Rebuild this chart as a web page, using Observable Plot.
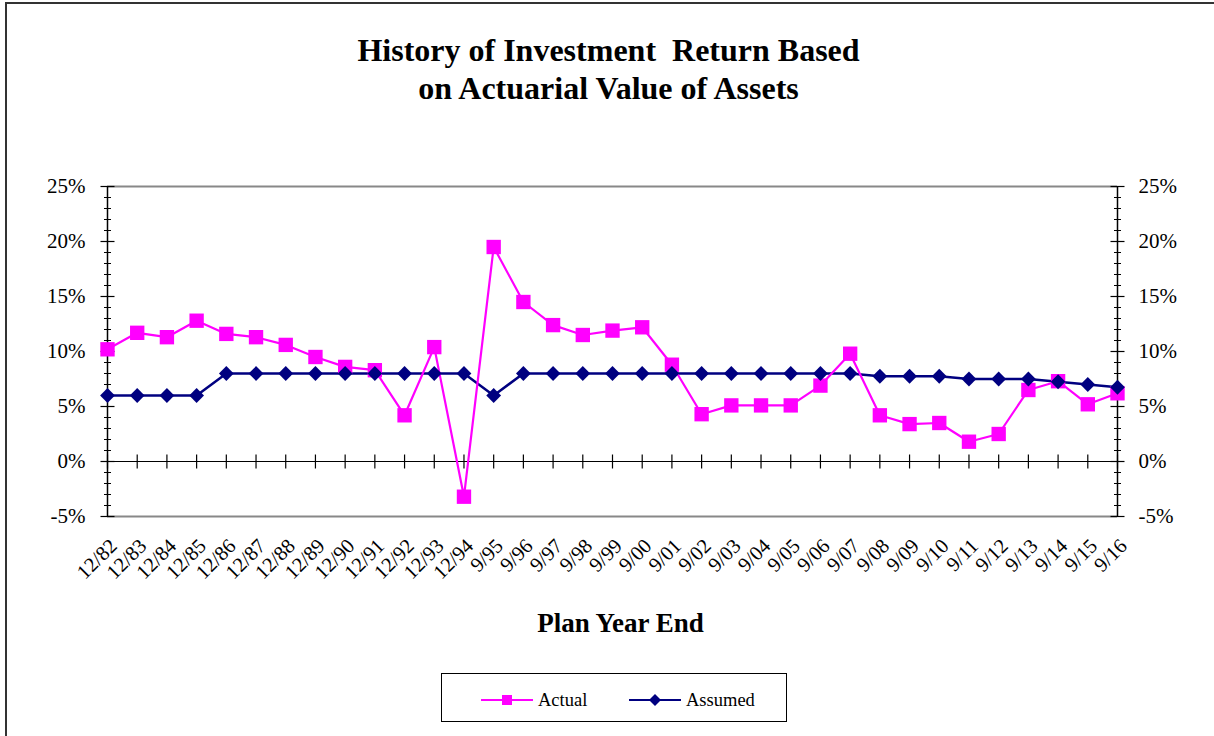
<!DOCTYPE html>
<html>
<head>
<meta charset="utf-8">
<script src="https://cdn.jsdelivr.net/npm/d3@7"></script>
<script src="https://cdn.jsdelivr.net/npm/@observablehq/plot@0.6"></script>
<style>
  html, body { margin: 0; padding: 0; background: #fff; }
  #wrap { position: relative; width: 1214px; height: 736px; overflow: hidden; font-family: "Liberation Serif", "Times New Roman", serif; }
  #border { position: absolute; left: 5px; top: 2px; width: 1300px; height: 800px; border-left: 2px solid #333; border-top: 2px solid #333; box-sizing: border-box; }
  #chart { position: absolute; left: 0; top: 0; }
  #legend { position: absolute; left: 441px; top: 673px; width: 346px; height: 49px; border: 1px solid #000; box-sizing: border-box; background: #fff; }
  #legend svg { position: absolute; left: 0; top: 0; }
</style>
</head>
<body>
<div id="wrap">
  <div id="border"></div>
  <div id="chart"></div>
  <div id="legend"></div>
</div>
<script>
const categories = ["12/82","12/83","12/84","12/85","12/86","12/87","12/88","12/89","12/90","12/91","12/92","12/93","12/94",
  "9/95","9/96","9/97","9/98","9/99","9/00","9/01","9/02","9/03","9/04","9/05","9/06","9/07","9/08","9/09","9/10","9/11","9/12","9/13","9/14","9/15","9/16"];
const actual = [10.2, 11.7, 11.3, 12.8, 11.6, 11.3, 10.6, 9.5, 8.6, 8.3, 4.2, 10.4, -3.2,
  19.5, 14.5, 12.4, 11.5, 11.9, 12.2, 8.8, 4.3, 5.1, 5.1, 5.1, 6.9, 9.8, 4.2, 3.4, 3.5, 1.8, 2.5, 6.5, 7.3, 5.2, 6.2];
const assumed = [6, 6, 6, 6, 8, 8, 8, 8, 8, 8, 8, 8, 8,
  6, 8, 8, 8, 8, 8, 8, 8, 8, 8, 8, 8, 8, 7.75, 7.75, 7.75, 7.5, 7.5, 7.5, 7.25, 7, 6.75];
const majorTicks = [-5, 0, 5, 10, 15, 20, 25];
const minorTicks = d3.range(-5, 26, 1);
const seriesNames = ["Actual", "Assumed"];
const seriesColors = ["#FF00FF", "#000080"];

const rowsActual = categories.map((c, i) => ({cat: c, v: actual[i]}));
const rowsAssumed = categories.map((c, i) => ({cat: c, v: assumed[i]}));

const hTick = (half) => ({draw(ctx) { ctx.moveTo(-half, 0); ctx.lineTo(half, 0); }});
const vTick = (half) => ({draw(ctx) { ctx.moveTo(0, -half); ctx.lineTo(0, half); }});
const diamond = {draw(ctx, size) { const a = Math.sqrt(size / 2); ctx.moveTo(0, -a); ctx.lineTo(a, 0); ctx.lineTo(0, a); ctx.lineTo(-a, 0); ctx.closePath(); }};

const W = 1214, H = 736;
const chart = Plot.plot({
  width: W, height: H,
  marginLeft: 107, marginRight: 97, marginTop: 186, marginBottom: 220,
  style: {fontFamily: "Liberation Serif, Times New Roman, serif", background: "transparent", overflow: "visible"},
  x: {type: "point", domain: categories, padding: 0, round: false, axis: null},
  y: {domain: [-5, 25], axis: null},
  marks: [
    // title
    Plot.text(["History of Investment  Return Based"], {frameAnchor: "top", lineAnchor: "middle", dy: -136, fontSize: 32, fontWeight: "bold", fill: "#000", dx: -4}),
    Plot.text(["on Actuarial Value of Assets"], {frameAnchor: "top", lineAnchor: "middle", dy: -98, fontSize: 32, fontWeight: "bold", fill: "#000", dx: -4}),
    // frame
    Plot.ruleY([25, -5], {stroke: "#888", strokeWidth: 2}),
    Plot.ruleX([categories[0], categories[categories.length - 1]], {stroke: "#000", strokeWidth: 1.5}),
    Plot.ruleY([0], {stroke: "#000", strokeWidth: 1.2}),
    // y ticks (left & right)
    Plot.dot(minorTicks, {y: d => d, frameAnchor: "left", symbol: hTick(3.5), stroke: "#000", strokeWidth: 1, fill: "none"}),
    Plot.dot(majorTicks, {y: d => d, frameAnchor: "left", symbol: hTick(7), stroke: "#000", strokeWidth: 1.2, fill: "none"}),
    Plot.dot(minorTicks, {y: d => d, frameAnchor: "right", symbol: hTick(3.5), stroke: "#000", strokeWidth: 1, fill: "none"}),
    Plot.dot(majorTicks, {y: d => d, frameAnchor: "right", symbol: hTick(7), stroke: "#000", strokeWidth: 1.2, fill: "none"}),
    // category ticks on the zero line
    Plot.dot(categories, {x: d => d, y: () => 0, symbol: vTick(7), stroke: "#000", strokeWidth: 1.2, fill: "none"}),
    // y labels
    Plot.text(majorTicks, {y: d => d, frameAnchor: "left", lineAnchor: "middle", text: d => d + "%", textAnchor: "end", dx: -22, fontSize: 21, fill: "#000"}),
    Plot.text(majorTicks, {y: d => d, frameAnchor: "right", lineAnchor: "middle", text: d => d + "%", textAnchor: "start", dx: 21, fontSize: 21, fill: "#000"}),
    // x labels
    Plot.text(categories, {x: d => d, frameAnchor: "bottom", lineAnchor: "middle", text: d => d, rotate: -45, textAnchor: "end", dx: 6, dy: 26, fontSize: 20.5, fill: "#000"}),
    // x axis title
    Plot.text(["Plan Year End"], {frameAnchor: "bottom", lineAnchor: "middle", dy: 107, dx: 8, fontSize: 27, fontWeight: "bold", fill: "#000"}),
    // series
    Plot.line(rowsAssumed, {x: "cat", y: "v", stroke: seriesColors[1], strokeWidth: 2.5}),
    Plot.line(rowsActual, {x: "cat", y: "v", stroke: seriesColors[0], strokeWidth: 2.2}),
    Plot.dot(rowsActual, {x: "cat", y: "v", symbol: "square", r: 8.1, fill: seriesColors[0], stroke: "none"}),
    Plot.dot(rowsAssumed, {x: "cat", y: "v", symbol: diamond, r: 5.9, fill: seriesColors[1], stroke: "none"})
  ]
});
document.getElementById("chart").appendChild(chart);

// legend
const lg = d3.select("#legend").append("svg").attr("width", 346).attr("height", 49)
  .style("font-family", "Liberation Serif, Times New Roman, serif");
const items = [
  {name: seriesNames[0], color: seriesColors[0], x: 39, shape: "square"},
  {name: seriesNames[1], color: seriesColors[1], x: 187, shape: "diamond"}
];
for (const it of items) {
  lg.append("line").attr("x1", it.x).attr("x2", it.x + 52).attr("y1", 26).attr("y2", 26)
    .attr("stroke", it.color).attr("stroke-width", 2);
  if (it.shape === "square") {
    lg.append("rect").attr("x", it.x + 21).attr("y", 21).attr("width", 10).attr("height", 10).attr("fill", it.color);
  } else {
    lg.append("path").attr("d", `M${it.x + 26},20L${it.x + 32},26L${it.x + 26},32L${it.x + 20},26Z`).attr("fill", it.color);
  }
  lg.append("text").attr("x", it.x + 57).attr("y", 32).attr("font-size", 18.5).attr("fill", "#000").text(it.name);
}
</script>
</body>
</html>
